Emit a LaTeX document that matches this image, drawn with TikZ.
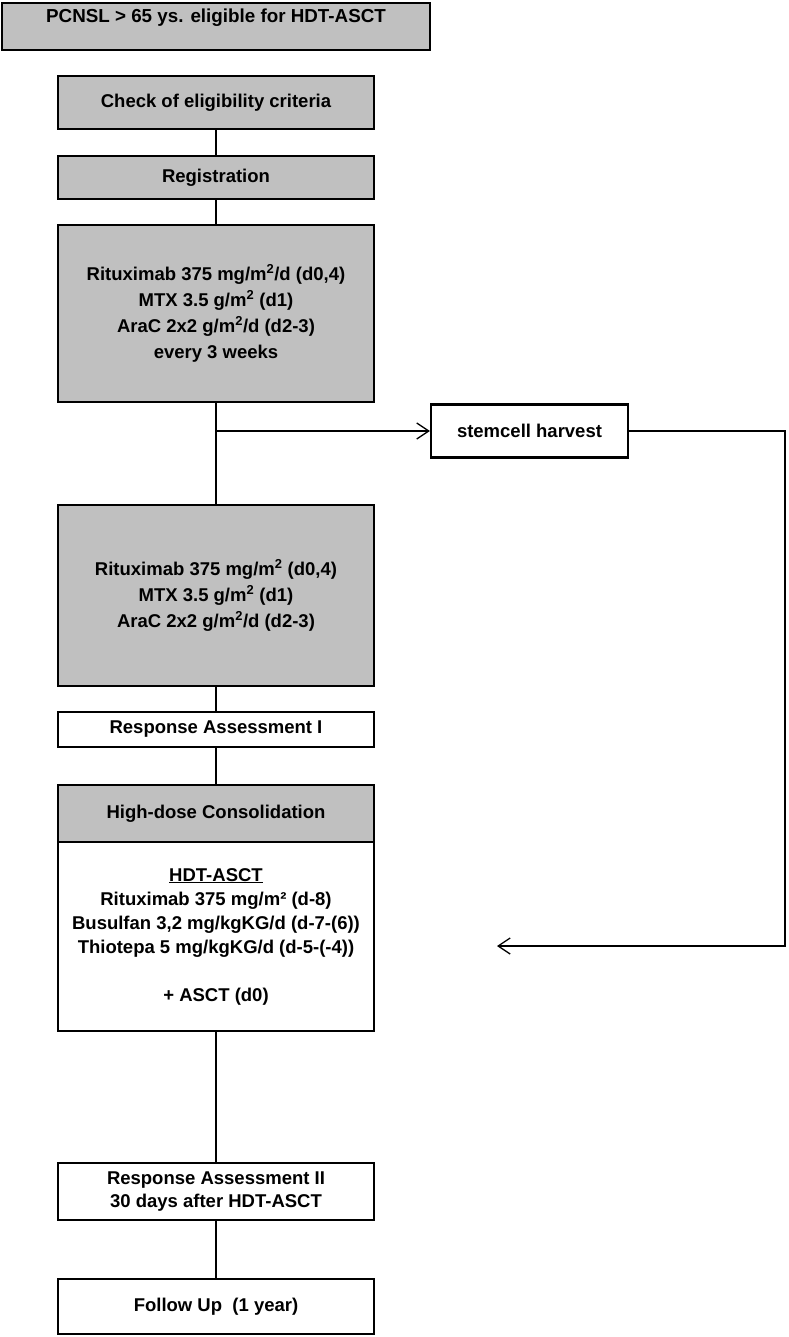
\documentclass[tikz,border=0pt]{standalone}
\usepackage{fontspec}
\setmainfont{Liberation Sans}
\usepackage{tikz}
\usetikzlibrary{arrows.meta,calc}

\begin{document}
\begin{tikzpicture}[x=1pt,y=-1pt,
    box/.style={draw=black,line width=2.2pt,minimum width=316pt,align=center,
      font=\bfseries\fontsize{18.5}{23}\selectfont,inner sep=2pt},
    graybox/.style={box,fill=boxgray},
    link/.style={line width=1.3pt,draw=black},
    tip/.style={-{Straight Barb[length=12pt,width=16pt,line width=1.3pt]}}]
      \definecolor{boxgray}{RGB}{192,192,192}
      \useasboundingbox (0,0) rectangle (788,1337);

      \node[graybox,anchor=north,minimum width=428pt,inner ysep=4pt,
            text height=15pt,text depth=24pt,font=\bfseries\fontsize{18.8}{20}\selectfont]
            (pcnsl) at (216,2) {PCNSL > 65 ys. eligible for HDT-ASCT};

      \node[graybox,minimum height=53pt] (check) at (216,102.5) {Check of eligibility criteria};
      \node[graybox,minimum height=43pt] (reg) at (216,177.5) {Registration};

      \node[graybox,minimum height=177pt,font=\bfseries\fontsize{18.5}{26}\selectfont]
            (ind1) at (216,313.5)
            {Rituximab 375 mg/m\textsuperscript{2}/d (d0,4)\\
             MTX 3.5 g/m\textsuperscript{2} (d1)\\
             AraC 2x2 g/m\textsuperscript{2}/d (d2-3)\\
             every 3 weeks};

      \node[box,minimum width=197pt,minimum height=53pt] (stem) at (529.5,431) {stemcell harvest};

      \node[graybox,minimum height=181pt,font=\bfseries\fontsize{18.5}{26}\selectfont]
            (ind2) at (216,595.5)
            {Rituximab 375 mg/m\textsuperscript{2} (d0,4)\\
             MTX 3.5 g/m\textsuperscript{2} (d1)\\
             AraC 2x2 g/m\textsuperscript{2}/d (d2-3)};

      \node[box,minimum height=35pt] (ra1) at (216,729.5) {Response Assessment I};

      \node[graybox,minimum height=57pt] (hdc) at (216,813.5) {High-dose Consolidation};
      \node[box,minimum height=189pt,font=\bfseries\fontsize{18.5}{24}\selectfont]
            (hdt) at (216,936.5)
            {\underline{HDT-ASCT}\\
             Rituximab 375 mg/m² (d-8)\\
             Busulfan 3,2 mg/kgKG/d (d-7-(6))\\
             Thiotepa 5 mg/kgKG/d (d-5-(-4))\\[24pt]
             + ASCT (d0)};

      \node[box,minimum height=57pt] (ra2) at (216,1191.5)
            {Response Assessment II\\ 30 days after HDT-ASCT};
      \node[box,minimum height=55pt] (fu) at (216,1306.5) {Follow Up~ (1 year)};

      % main line
      \foreach \a/\b in {check/reg,reg/ind1,ind1/ind2,ind2/ra1,ra1/hdc,hdt/ra2,ra2/fu} {
        \draw[link] (\a.south) -- (\b.north);
      }

      % stemcell branch and return
      \coordinate (split) at (stem.west -| ind1.south);
      \coordinate (rim) at (785,431);
      \coordinate (back) at (497,946);
      \draw[link,tip] (split) -- (stem.west);
      \draw[link,tip] (stem.east) -- (rim) |- (back);
\end{tikzpicture}
\end{document}
